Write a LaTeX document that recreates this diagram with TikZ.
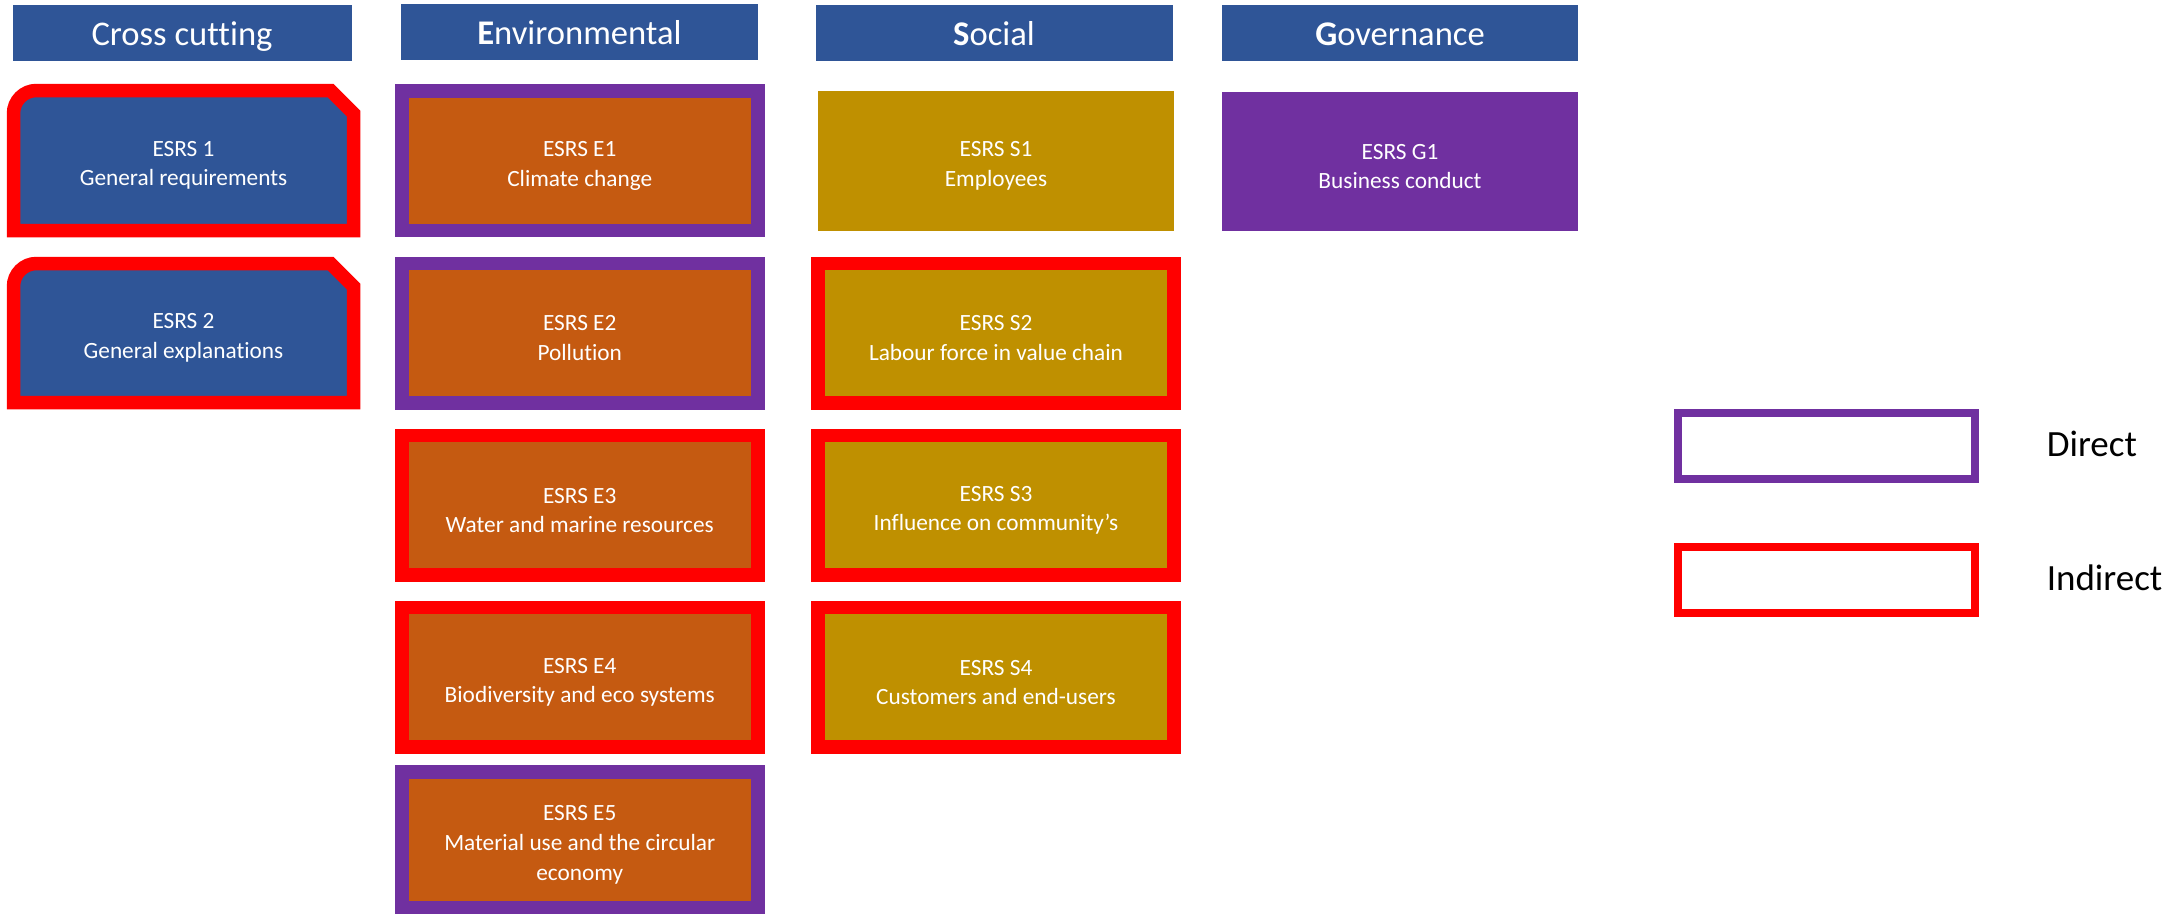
\documentclass[tikz,border=0pt]{standalone}
\usepackage{fontspec}
\setmainfont{Carlito}[Ligatures={NoCommon}]
\definecolor{hdrblue}{HTML}{2F5597}
\definecolor{envorange}{HTML}{C55A11}
\definecolor{socgold}{HTML}{BF9000}
\definecolor{govpurple}{HTML}{7030A0}
\definecolor{indred}{HTML}{FF0000}
\begin{document}
\begin{tikzpicture}[x=1pt,y=-1pt,
  hdr/.style={fill=hdrblue, text=white, minimum height=56pt, inner sep=0pt, text height=25pt, text depth=0pt, font=\fontsize{34.6}{40}\selectfont},
  box/.style={minimum width=356pt, minimum height=139.5pt, inner sep=0pt, line width=13.5pt},
  envbox/.style={box, fill=envorange},
  socbox/.style={box, fill=socgold},
  govbox/.style={box, fill=govpurple},
  direct/.style={draw=govpurple},
  indirect/.style={draw=indred},
  ccshape/.style={draw=indred, fill=hdrblue, line width=13.5pt, line join=miter},
  boxtext/.style={text=white, align=center, font=\fontsize{23.3}{29.6}\selectfont, inner sep=0pt, yshift=-5pt},
  legbox/.style={minimum width=297pt, minimum height=66pt, inner sep=0pt, line width=8pt},
  legtext/.style={anchor=base west, inner sep=0pt, font=\fontsize{37}{44}\selectfont}
]
\useasboundingbox (0,0) rectangle (2177,914);

% headers
\node[hdr, minimum width=339pt] (hc) at (182,33) {Cross cutting};
\node[hdr, minimum width=357pt] (he) at (579.5,32) {\textbf{E}nvironmental};
\node[hdr, minimum width=357pt] (hs) at (994,33) {\textbf{S}ocial};
\node[hdr, minimum width=356pt] (hg) at (1400,33) {\textbf{G}overnance};

% cross cutting
\draw[ccshape] (13.5,230.5) -- (13.5,113.5) arc[start angle=180, end angle=270, radius=23] -- (330.5,90.5) -- (353.5,113.5) -- (353.5,230.5) -- cycle;
\coordinate (c1) at (183.5,160.5);
\node[boxtext] (c1t) at (c1) {ESRS 1\\General requirements};
\draw[ccshape] (13.5,402.5) -- (13.5,286.5) arc[start angle=180, end angle=270, radius=23] -- (330.5,263.5) -- (353.5,286.5) -- (353.5,402.5) -- cycle;
\coordinate (c2) at (183.5,333);
\node[boxtext] (c2t) at (c2) {ESRS 2\\General explanations};

% environmental
\node[envbox, direct] (e1) at (579.75,160.75) {};
\node[boxtext] (e1t) at (e1.center) {ESRS E1\\Climate change};
\node[envbox, direct] (e2) at (579.75,333) {};
\node[boxtext] (e2t) at (e2.center) {ESRS E2\\Pollution};
\node[envbox, indirect] (e3) at (579.75,505.35) {};
\node[boxtext] (e3t) at (e3.center) {ESRS E3\\Water and marine resources};
\node[envbox, indirect] (e4) at (579.75,677.35) {};
\node[boxtext] (e4t) at (e4.center) {ESRS E4\\Biodiversity and eco systems};
\node[envbox, direct, minimum height=135.5pt] (e5) at (579.75,839.75) {};
\node[boxtext] (e5t) at (e5.center) {ESRS E5\\Material use and the circular\\economy};

% social
\node[socbox] (s1) at (996,160.75) {};
\node[boxtext] (s1t) at (s1.center) {ESRS S1\\Employees};
\node[socbox, indirect] (s2) at (996,333) {};
\node[boxtext] (s2t) at (s2.center) {ESRS S2\\Labour force in value chain};
\node[socbox, indirect] (s3) at (996,505.35) {};
\node[boxtext] (s3t) at (s3.center) {ESRS S3\\Influence on community’s};
\node[socbox, indirect] (s4) at (996,677.35) {};
\node[boxtext] (s4t) at (s4.center) {ESRS S4\\Customers and end-users};

% governance
\node[govbox] (g1) at (1400,161.5) {};
\node[boxtext] (g1t) at (g1.center) {ESRS G1\\Business conduct};

% legend
\node[legbox, direct] (ld) at (1826.5,446.2) {};
\node[legbox, indirect] (li) at (1826.5,580.3) {};
\node[legtext] (ldt) at (2046.6,456.7) {Direct};
\node[legtext] (lit) at (2046.6,590.7) {Indirect};
\end{tikzpicture}
\end{document}
